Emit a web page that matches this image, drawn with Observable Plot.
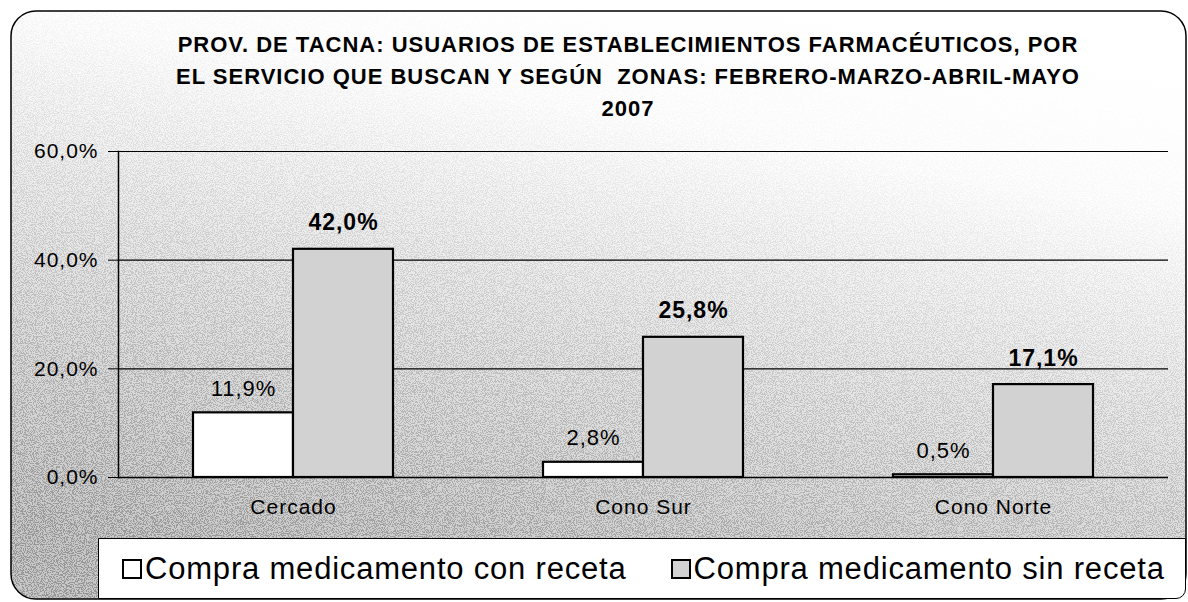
<!DOCTYPE html>
<html><head><meta charset="utf-8">
<script src="https://cdn.jsdelivr.net/npm/d3@7"></script>
<script src="https://cdn.jsdelivr.net/npm/@observablehq/plot@0.6"></script>
<style>
body{margin:0;background:#fff;}
#wrap{position:relative;width:1188px;height:602px;overflow:hidden;font-family:"Liberation Sans",Arial,sans-serif;color:#000;}
#bg{position:absolute;left:0;top:0;}
#title{position:absolute;left:128px;width:1000px;top:29px;text-align:center;font-weight:bold;font-size:22px;letter-spacing:1px;line-height:32px;}
#chart{position:absolute;left:0;top:0;}
#chart svg{background:transparent;}
#legend{position:absolute;left:98px;top:538px;width:1088px;height:61px;background:#fff;border:1.5px solid #000;box-sizing:border-box;border-bottom-right-radius:10px;display:flex;align-items:center;font-size:31px;letter-spacing:0.8px;white-space:nowrap;}
.item{display:flex;align-items:center;}
.sw{display:inline-block;width:20px;height:20px;border:2px solid #000;box-sizing:border-box;margin-right:3px;}
</style></head>
<body>
<div id="wrap">
<svg id="bg" width="1188" height="602">
<defs>
<linearGradient id="g" x1="0.7" y1="0" x2="0.35" y2="1">
<stop offset="0" stop-color="#ffffff"/><stop offset="0.22" stop-color="#fdfdfd"/><stop offset="0.55" stop-color="#e6e6e6"/><stop offset="1" stop-color="#c8c8c8"/>
</linearGradient>
<linearGradient id="mg" x1="0.7" y1="0" x2="0.35" y2="1">
<stop offset="0" stop-color="#000"/><stop offset="0.2" stop-color="#111"/><stop offset="1" stop-color="#fff"/>
</linearGradient>
<mask id="m"><rect x="0" y="0" width="1188" height="602" fill="url(#mg)"/></mask>
<filter id="noise" x="0" y="0" width="100%" height="100%">
<feTurbulence type="fractalNoise" baseFrequency="0.9" numOctaves="2" seed="7"/>
<feColorMatrix type="matrix" values="0 0 0 0 0  0 0 0 0 0  0 0 0 0 0  -16 0 0 0 8.2"/>
</filter>
<clipPath id="cp"><rect x="11" y="11" width="1175" height="588" rx="25" ry="25"/></clipPath>
</defs>
<rect x="11" y="11" width="1175" height="588" rx="25" ry="25" fill="url(#g)"/>
<g clip-path="url(#cp)" mask="url(#m)" opacity="0.25"><rect x="0" y="0" width="1188" height="602" filter="url(#noise)"/></g>
<rect x="11" y="11" width="1175" height="588" rx="25" ry="25" fill="none" stroke="#000" stroke-width="1.5"/>
</svg>
<div id="title">PROV. DE TACNA: USUARIOS DE ESTABLECIMIENTOS FARMACÉUTICOS, POR<br>EL SERVICIO QUE BUSCAN Y SEGÚN&nbsp; ZONAS: FEBRERO-MARZO-ABRIL-MAYO<br>2007</div>
<div id="chart"></div>
<div id="legend"></div>
</div>
<script>
const zones = ["Cercado", "Cono Sur", "Cono Norte"];
const conReceta = [11.9, 2.8, 0.5];
const sinReceta = [42.0, 25.8, 17.1];
const seriesNames = ["Compra medicamento con receta", "Compra medicamento sin receta"];
const seriesFills = ["#ffffff", "#d2d2d2"];
const yTicks = [0, 20, 40, 60];

const conData = zones.map((z, i) => ({zone: z, serie: seriesNames[0], value: conReceta[i]}));
const sinData = zones.map((z, i) => ({zone: z, serie: seriesNames[1], value: sinReceta[i]}));
const fmt = v => v.toFixed(1).replace(".", ",") + "%";

const chart = Plot.plot({
  width: 1188,
  height: 602,
  marginLeft: 118,
  marginRight: 20,
  marginTop: 151,
  marginBottom: 125,
  style: {background: "transparent", fontFamily: "'Liberation Sans', Arial, sans-serif", fontSize: "21px", color: "#000", letterSpacing: "1px"},
  x: {type: "band", domain: zones, padding: 0},
  y: {domain: [0, 60]},
  marks: [
    Plot.ruleY(yTicks.filter(d => d > 0), {stroke: "#000", strokeWidth: 1.2}),
    Plot.barY(conData, {x: "zone", y: "value", fill: seriesFills[0], stroke: "#000", strokeWidth: 2.2, insetLeft: 75, insetRight: 175}),
    Plot.barY(sinData, {x: "zone", y: "value", fill: seriesFills[1], stroke: "#000", strokeWidth: 2.2, insetLeft: 175, insetRight: 75}),
    Plot.ruleY([0], {stroke: "#000", strokeWidth: 1.5}),
    Plot.frame({anchor: "left", stroke: "#000", strokeWidth: 1.5}),
    Plot.text(conData, {x: "zone", y: "value", text: d => fmt(d.value), dx: -50, dy: -17, lineAnchor: "bottom", fontSize: 22, fill: "#000"}),
    Plot.text(sinData, {x: "zone", y: "value", text: d => fmt(d.value), dx: 50, dy: -19, lineAnchor: "bottom", fontSize: 23, fontWeight: "bold", fill: "#000"}),
    Plot.axisY({ticks: yTicks, tickFormat: fmt, tickSize: 10, tickPadding: 10, label: null, stroke: "#000", fill: "#000"}),
    Plot.axisX({tickSize: 0, tickPadding: 22, label: null, fill: "#000"})
  ]
});
document.getElementById("chart").appendChild(chart);

const legend = document.getElementById("legend");
seriesNames.forEach((name, i) => {
  const item = document.createElement("div");
  item.className = "item";
  item.style.marginLeft = i === 0 ? "23px" : "44px";
  const sw = document.createElement("span");
  sw.className = "sw";
  sw.style.background = seriesFills[i];
  const t = document.createElement("span");
  t.textContent = name;
  item.appendChild(sw);
  item.appendChild(t);
  legend.appendChild(item);
});
</script>
</body></html>
